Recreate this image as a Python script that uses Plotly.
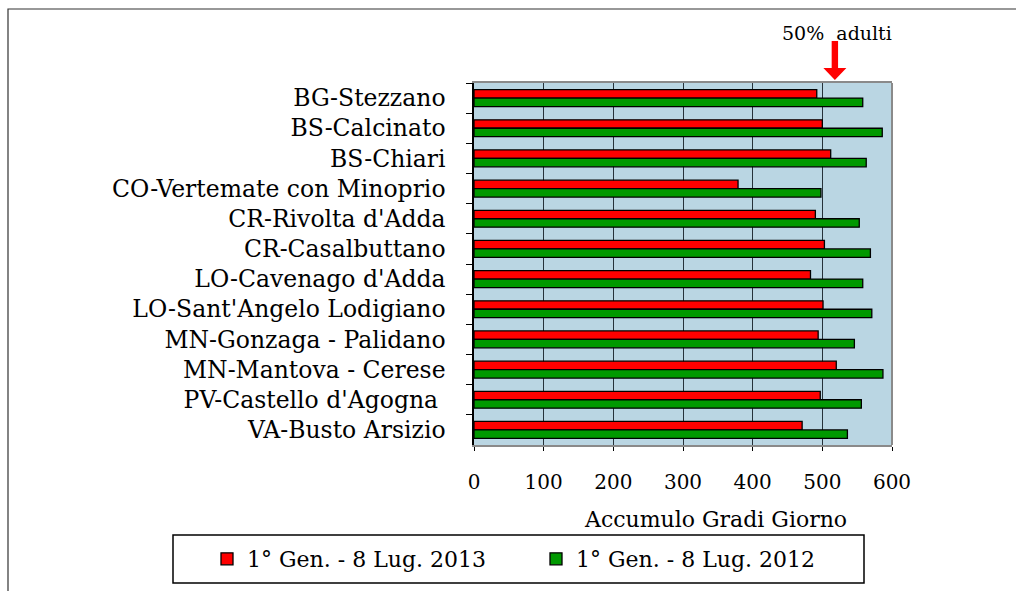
import plotly.graph_objects as go

# ---- data ----
stations = ["BG-Stezzano", "BS-Calcinato", "BS-Chiari", "CO-Vertemate con Minoprio",
            "CR-Rivolta d'Adda", "CR-Casalbuttano", "LO-Cavenago d'Adda",
            "LO-Sant'Angelo Lodigiano", "MN-Gonzaga - Palidano", "MN-Mantova - Cerese",
            "PV-Castello d'Agogna ", "VA-Busto Arsizio"]
gg_2013 = [492, 500, 512, 379, 490, 503, 483, 501, 494, 520, 497, 471]
gg_2012 = [558, 586, 563, 498, 553, 569, 558, 571, 546, 587, 556, 536]
series_names = ["1° Gen. - 8 Lug. 2013", "1° Gen. - 8 Lug. 2012"]
x_ticks = [0, 100, 200, 300, 400, 500, 600]
threshold_value = 518  # "50% adulti" marker position on x axis
x_max = 600

FONT = "DejaVu Serif"

# layout geometry (pixels)
W, H = 1016, 591
L, R, T, B = 474, 124, 83, 146
pw, ph = W - L - R, H - T - B


def px_to_paper_x(px):
    return (px - L) / pw


def px_to_paper_y(py):
    return (H - B - py) / ph


fig = go.Figure()
fig.add_trace(go.Bar(
    y=stations, x=gg_2013, name=series_names[0], orientation="h",
    marker=dict(color="#FF0000", line=dict(color="black", width=1.3)),
))
fig.add_trace(go.Bar(
    y=stations, x=gg_2012, name=series_names[1], orientation="h",
    marker=dict(color="#009900", line=dict(color="black", width=1.3)),
))

# arrow marker for "50% adulti"
ax = threshold_value / x_max
sh = 3.2 / pw   # shaft half width
hh = 11.5 / pw  # head half width
y_top = px_to_paper_y(41)
y_neck = px_to_paper_y(68)
y_tip = px_to_paper_y(80)
arrow_path = (f"M {ax-sh},{y_top} L {ax+sh},{y_top} L {ax+sh},{y_neck} L {ax+hh},{y_neck} "
              f"L {ax},{y_tip} L {ax-hh},{y_neck} L {ax-sh},{y_neck} Z")

shapes = [
    # outer frame
    dict(type="rect", xref="paper", yref="paper",
         x0=px_to_paper_x(8), x1=px_to_paper_x(1030),
         y0=px_to_paper_y(610), y1=px_to_paper_y(9),
         line=dict(color="#333333", width=1.2), fillcolor="rgba(0,0,0,0)", layer="below"),
    # legend frame
    dict(type="rect", xref="paper", yref="paper",
         x0=px_to_paper_x(173), x1=px_to_paper_x(864),
         y0=px_to_paper_y(583), y1=px_to_paper_y(535),
         line=dict(color="black", width=1.5), fillcolor="white", layer="below"),
    # right plot border (gray)
    dict(type="line", xref="paper", yref="paper", x0=1, x1=1, y0=0, y1=1,
         line=dict(color="#8a8a8a", width=2)),
    dict(type="path", xref="paper", yref="paper", path=arrow_path,
         fillcolor="#FF0000", line=dict(color="#FF0000", width=0)),
]

annotations = [
    dict(text="50%  adulti", xref="paper", yref="paper",
         x=px_to_paper_x(837), y=px_to_paper_y(33), xanchor="center", yanchor="middle",
         showarrow=False, font=dict(family=FONT, size=19, color="black")),
    dict(text="Accumulo Gradi Giorno", xref="paper", yref="paper",
         x=px_to_paper_x(715), y=px_to_paper_y(519), xanchor="center", yanchor="middle",
         showarrow=False, font=dict(family=FONT, size=22, color="black")),
]

fig.update_layout(
    width=W, height=H,
    margin=dict(l=L, r=R, t=T, b=B, autoexpand=False),
    paper_bgcolor="white",
    plot_bgcolor="#BAD6E3",
    barmode="group",
    bargap=0.44,
    bargroupgap=0.0,
    font=dict(family=FONT, size=19, color="black"),
    shapes=shapes,
    annotations=annotations,
    legend=dict(
        orientation="h",
        x=px_to_paper_x(207), y=px_to_paper_y(559),
        xanchor="left", yanchor="middle",
        bgcolor="rgba(0,0,0,0)", borderwidth=0,
        font=dict(family=FONT, size=22, color="black"),
        entrywidth=284,
        traceorder="normal",
    ),
    xaxis=dict(
        range=[0, x_max], tickvals=x_ticks, ticktext=[str(v) for v in x_ticks],
        showgrid=True, gridcolor="#26323a", gridwidth=1,
        showline=True, linecolor="#8a8a8a", linewidth=2, mirror=True,
        ticks="outside", ticklen=4, tickcolor="black",
        ticklabelstandoff=14,
        tickfont=dict(family=FONT, size=20, color="black"),
        zeroline=False, fixedrange=True,
    ),
    yaxis=dict(
        categoryorder="array", categoryarray=stations, autorange="reversed",
        showline=True, linecolor="black", linewidth=1.5,
        ticks="outside", ticklen=6, tickcolor="black", tickson="boundaries",
        ticklabelstandoff=22,
        tickfont=dict(family=FONT, size=23.5, color="black"),
        showgrid=False, zeroline=False, fixedrange=True,
    ),
)

fig.write_html("out.html", config={"displayModeBar": False},
               post_script="document.body.style.margin='0px';")
